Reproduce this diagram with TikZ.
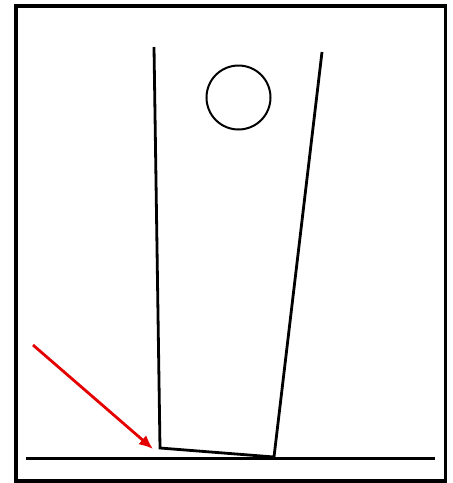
\documentclass[tikz,border=0pt]{standalone}
\usetikzlibrary{arrows.meta}
\begin{document}
\begin{tikzpicture}[x=1pt,y=-1pt,
  outline/.style={line width=3.2pt,black},
  blackline/.style={line width=2.8pt,black,line join=miter},
  redarrow/.style={line width=2.8pt,red!90!black,-{Latex[length=14pt,width=12pt]}}]
\useasboundingbox (0,0) rectangle (453,483);
\draw[outline] (16,6) rectangle (445.5,481);
\coordinate (tl) at (154,47);
\coordinate (bl) at (160,448);
\coordinate (br) at (274,457);
\coordinate (tr) at (322,52);
\draw[blackline] (tl) -- (bl) -- (br) -- (tr);
\coordinate (g1) at (26,458.5);
\coordinate (g2) at (435,458.5);
\draw[blackline] (g1) -- (g2);
\node[draw,circle,line width=2pt,minimum size=64pt,inner sep=0pt] (hole) at (238.5,97.5) {};
\coordinate (a1) at (33,345);
\coordinate (a2) at (153,449);
\draw[redarrow] (a1) -- (a2);
\end{tikzpicture}
\end{document}
